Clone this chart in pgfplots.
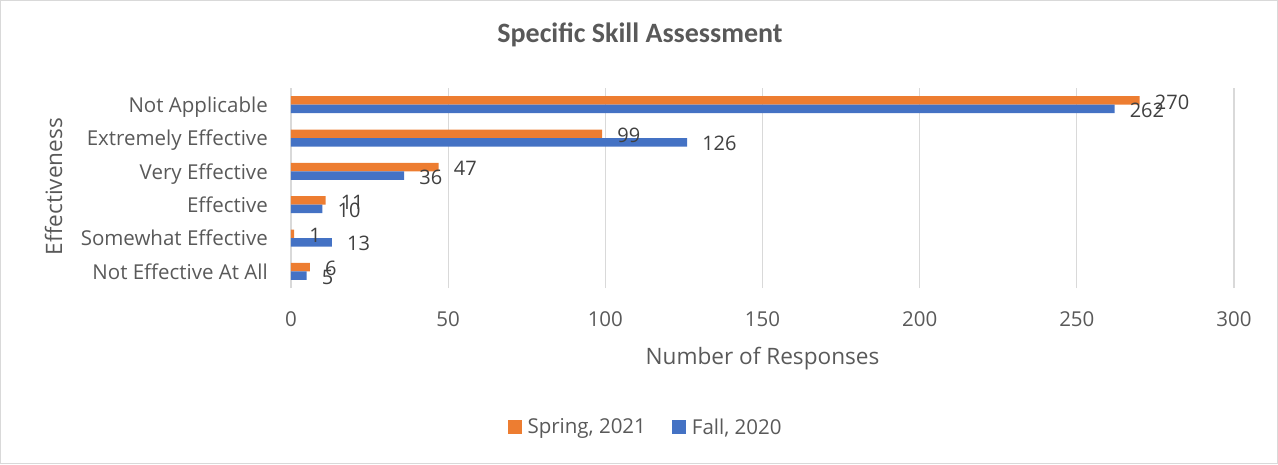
\documentclass[border=0pt]{standalone}
\usepackage{fontspec}
\setmainfont{Open Sans}
\newfontfamily\titlefont{Carlito}
\usepackage{pgfplots}
\pgfplotsset{compat=1.18}
\definecolor{sorange}{HTML}{ED7D31}
\definecolor{fblue}{HTML}{4472C4}
\definecolor{gridc}{HTML}{D9D9D9}
\definecolor{txt}{HTML}{595959}
\definecolor{lbl}{HTML}{404040}
\pgfplotsset{sqleg/.style={legend image code/.code={\fill[##1] (0pt,-7pt) rectangle (14pt,7pt); \path (20pt,0pt);}}}
\begin{document}
\begin{tikzpicture}[x=1pt,y=1pt]
\useasboundingbox (0,0) rectangle (1278,464);
\draw[gridc, line width=1pt] (0.5,0.5) rectangle (1277.5,463.5);
\begin{axis}[
  at={(291pt,176pt)}, anchor=south west,
  scale only axis, width=943pt, height=200pt,
  xbar, bar width=8.5pt,
  xmin=0, xmax=300, ymin=0.5, ymax=6.5,
  xtick={0,50,...,300},
  ytick={1,...,6},
  yticklabels={Not Effective At All, Somewhat Effective, Effective, Very Effective, Extremely Effective, Not Applicable},
  axis line style={draw=none},
  major tick length=0pt,
  xmajorgrids, grid style={gridc, line width=1.2pt},
  clip=false,
  /pgf/number format/assume math mode=true,
  tick label style={font=\fontsize{20.5}{24}\selectfont, text=txt, inner sep=0pt},
  yticklabel style={anchor=east, xshift=-23pt, text height=14.6pt, text depth=0pt, yshift=-0.5pt},
  xticklabel style={anchor=north, yshift=-23pt},
  title={Specific Skill Assessment},
  title style={at={(axis description cs:0.3701,1.2)}, anchor=base, font=\titlefont\bfseries\fontsize{28}{32}\selectfont, text=txt, inner sep=0pt},
  xlabel={Number of Responses},
  xlabel style={at={(axis description cs:0.5,-0.38)}, anchor=base, font=\fontsize{22.6}{26}\selectfont, text=txt, inner sep=0pt},
  ylabel={Effectiveness},
  ylabel style={at={(axis description cs:-0.2428,0.5075)}, anchor=base, font=\fontsize{22.6}{26}\selectfont, text=txt, inner sep=0pt},
  point meta=x,
  nodes near coords,
  nodes near coords style={font=\fontsize{20}{24}\selectfont, text=lbl, anchor=west, inner sep=0pt, xshift=15pt, yshift=-1.5pt},
  legend columns=2,
  legend cell align=left,
  legend style={at={(axis description cs:0.3749,-0.695)}, anchor=center, draw=none, fill=none, inner sep=0pt, outer sep=0pt,
    font=\fontsize{20.5}{24}\selectfont, text=txt, nodes={inner sep=0pt},
    /tikz/every even column/.append style={column sep=26pt}},
]
\addplot[fill=sorange, draw=none, bar shift=4.25pt, sqleg] coordinates {(6,1) (1,2) (11,3) (47,4) (99,5) (270,6)};
\addlegendentry{Spring, 2021}
\addplot[fill=fblue, draw=none, bar shift=-4.25pt, sqleg] coordinates {(5,1) (13,2) (10,3) (36,4) (126,5) (262,6)};
\addlegendentry{Fall, 2020}
\end{axis}
\end{tikzpicture}
\end{document}
